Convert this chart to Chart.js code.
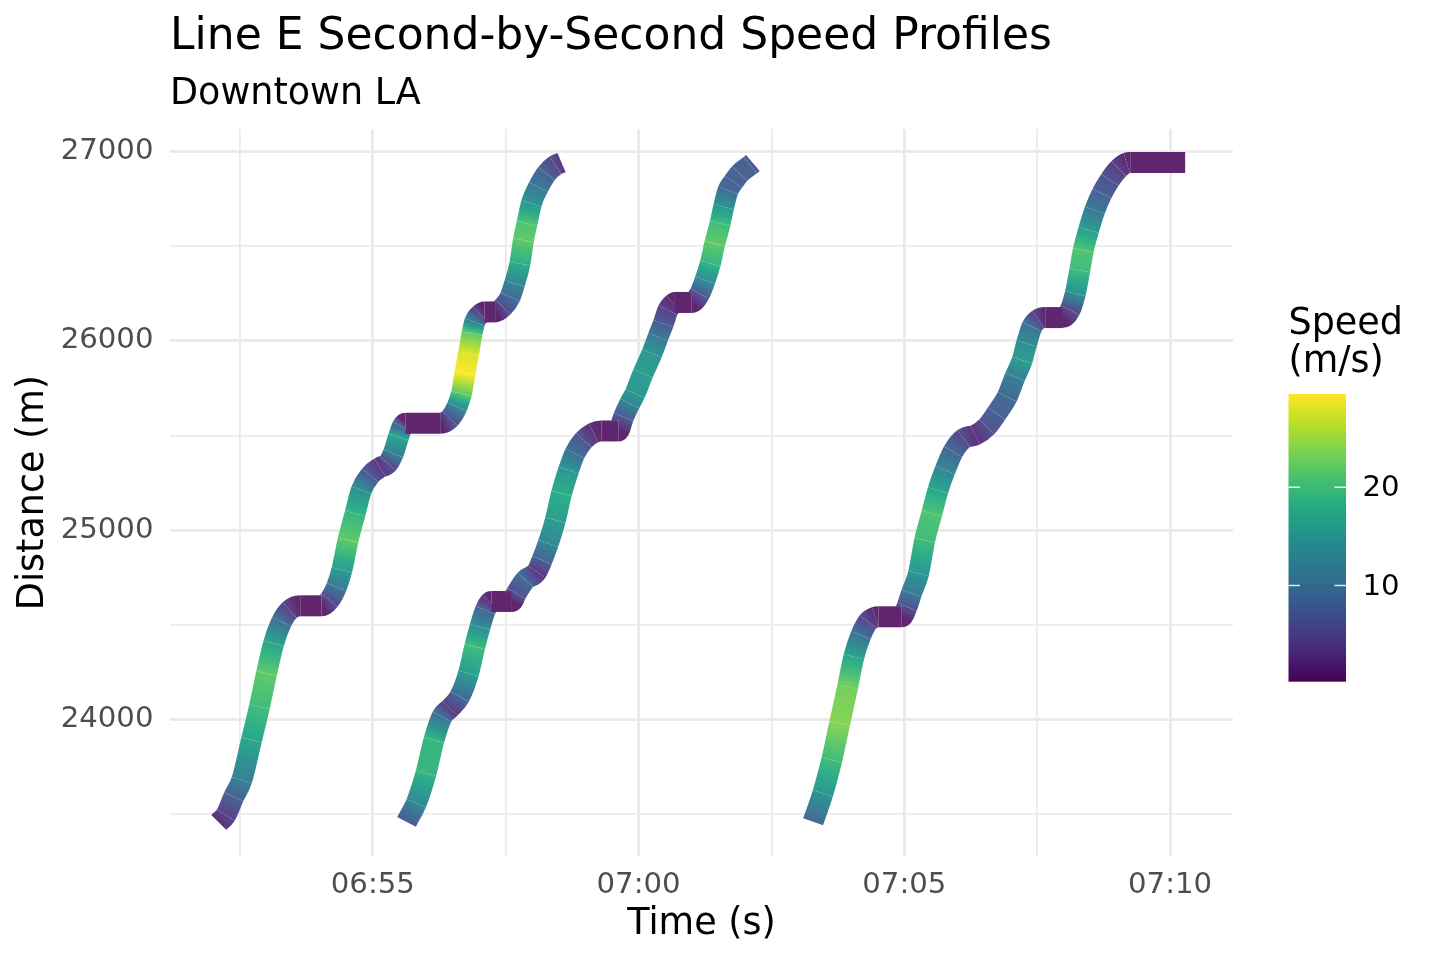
<!DOCTYPE html>
<html>
<head>
<meta charset="utf-8">
<script src="https://cdn.jsdelivr.net/npm/chart.js@4.4.0/dist/chart.umd.min.js"></script>
<style>
  html, body { margin: 0; padding: 0; background: #ffffff; }
  #wrap { width: 1440px; height: 960px; position: relative; }
</style>
</head>
<body>
<div id="wrap"><canvas id="c" width="1440" height="960"></canvas></div>
<script>
// ---------------- DATA ----------------
const trainNames = ["Train 1", "Train 2", "Train 3"];

const train1Times = ["06:52:06","06:52:14","06:52:23","06:52:32","06:52:43","06:52:52","06:53:00","06:53:08","06:53:17","06:53:26","06:53:38","06:54:02","06:54:11","06:54:19","06:54:25","06:54:32","06:54:40","06:54:47","06:54:57","06:55:08","06:55:17","06:55:23","06:55:29","06:55:33","06:55:37","06:56:16","06:56:27","06:56:35","06:56:40","06:56:44","06:56:48","06:56:52","06:56:55","06:57:01","06:57:06","06:57:18","06:57:27","06:57:35","06:57:40","06:57:46","06:57:50","06:57:54","06:57:59","06:58:07","06:58:16","06:58:26","06:58:33"];
const train1Distance = [23456,23494,23591,23679,23891,24067,24243,24402,24516,24577,24600,24600,24630,24700,24789,24947,25088,25211,25290,25331,25352,25405,25493,25546,25565,25565,25590,25651,25722,25828,25933,26039,26100,26140,26153,26153,26179,26232,26303,26409,26532,26620,26726,26813,26884,26928,26942];
const train1Speed = [2,4,8,12,17,20,22,17,10,4,0.2,0.2,5,11,16,22,19,14,7,3,5,12,17,8,0.2,0.2,6,13,22,29.5,28,22,12,4,0.2,0.2,5,9,13,18,22,21,15,11,8,5,3];

const train2Times = ["06:55:38","06:55:49","06:56:00","06:56:09","06:56:18","06:56:27","06:56:38","06:56:48","06:56:55","06:57:01","06:57:07","06:57:12","06:57:14","06:57:37","06:57:42","06:57:52","06:58:05","06:58:11","06:58:18","06:58:26","06:58:33","06:58:41","06:58:48","06:58:58","06:59:09","06:59:18","06:59:37","06:59:43","06:59:50","06:59:56","07:00:05","07:00:15","07:00:22","07:00:28","07:00:33","07:00:39","07:00:41","07:01:00","07:01:09","07:01:15","07:01:21","07:01:26","07:01:32","07:01:36","07:01:41","07:01:47","07:01:54","07:02:06","07:02:09"];
const train2Distance = [23458,23557,23716,23891,24014,24058,24120,24243,24384,24489,24577,24619,24623,24623,24666,24736,24780,24842,24930,25053,25194,25317,25405,25475,25514,25524,25524,25598,25669,25722,25828,25933,26021,26092,26162,26197,26203,26203,26250,26320,26409,26514,26620,26708,26796,26840,26884,26928,26940];
const train2Speed = [7,13,19,19,10,3,9,16,20,14,8,2,0.2,0.2,6,9,3,8,13,16,18,15,10,6,2,0.2,0.2,7,13,15,16,15,11,7,4,1,0.2,0.2,7,14,19,22,20,15,9,8,8,8,7];

const train3Times = ["07:03:17","07:03:28","07:03:38","07:03:47","07:03:56","07:04:03","07:04:11","07:04:19","07:04:27","07:04:31","07:04:57","07:05:03","07:05:08","07:05:16","07:05:23","07:05:31","07:05:38","07:05:46","07:05:55","07:06:07","07:06:20","07:06:33","07:06:44","07:06:56","07:07:05","07:07:13","07:07:18","07:07:24","07:07:31","07:07:39","07:07:58","07:08:07","07:08:13","07:08:18","07:08:22","07:08:28","07:08:35","07:08:43","07:08:52","07:09:02","07:09:11","07:09:15","07:10:17"];
const train3Distance = [23459,23609,23785,23979,24172,24331,24445,24516,24540,24542,24542,24595,24666,24771,24947,25088,25211,25317,25414,25484,25502,25546,25616,25704,25810,25898,25986,26074,26113,26123,26123,26162,26250,26373,26479,26585,26690,26778,26850,26910,26940,26942,26942];
const train3Speed = [9,15,20,24,23,17,10,5,1,0.2,0.2,6,11,15,20,21,17,13,9,5,2,6,8,9,12,16,14,10,4,0.2,0.2,5,14,20,21,16,11,8,6,4,1,0.2,0.2];

const xTickTimes = ["06:52:30","06:55:00","06:57:30","07:00:00","07:02:30","07:05:00","07:07:30","07:10:00"];
const xLabelledTimes = ["06:55:00","07:00:00","07:05:00","07:10:00"];
const yTickValues = [23500,24000,24500,25000,25500,26000,26500,27000];
const yLabelledValues = [24000,25000,26000,27000];
const speedLegendTicks = [10, 20];

const chartTitle = "Line E Second-by-Second Speed Profiles";
const chartSubtitle = "Downtown LA";
const xTitle = "Time (s)";
const yTitle = "Distance (m)";
const legendTitleLines = ["Speed", "(m/s)"];

// ---------------- helpers ----------------
function toSec(s) { const p = s.split(":").map(Number); return p[0]*3600 + p[1]*60 + (p[2]||0); }
function fmtHM(v) { const h = Math.floor(v/3600), m = Math.round((v - h*3600)/60); return String(h).padStart(2,"0") + ":" + String(m).padStart(2,"0"); }

const VIRIDIS = ["#440154","#482576","#414487","#35608D","#2A788E","#21908C","#22A884","#43BF71","#7AD151","#BBDF27","#FDE725"];
const VIR_RGB = VIRIDIS.map(h => [parseInt(h.slice(1,3),16), parseInt(h.slice(3,5),16), parseInt(h.slice(5,7),16)]);
function viridisRGB(f) {
  f = Math.max(0, Math.min(1, f));
  const pos = f * (VIR_RGB.length - 1);
  const i = Math.min(VIR_RGB.length - 2, Math.floor(pos));
  const t = pos - i;
  const a = VIR_RGB[i], b = VIR_RGB[i+1];
  return a.map((v,k) => v + (b[k]-v)*t);
}
function viridisAt(f) { return "rgb(" + viridisRGB(f).map(Math.round).join(",") + ")"; }

const timesList = [train1Times, train2Times, train3Times];
const distList = [train1Distance, train2Distance, train3Distance];
const speedList = [train1Speed, train2Speed, train3Speed];
const allSpeeds = speedList.flat();
const vMin = Math.min(...allSpeeds), vMax = Math.max(...allSpeeds);

// line colour: viridis, slightly lifted (the reference's dense per-second
// segments leave light anti-aliasing seams, more so where the train is slow)
function lineColor(v) {
  const rgb = viridisRGB((v - vMin) / (vMax - vMin));
  const w = 0.15 / (1 + v / 8);
  return "rgb(" + rgb.map(c => Math.round(c + (255 - c) * w)).join(",") + ")";
}

const FONT = "DejaVu Sans";

const datasets = trainNames.map((name, di) => ({
  label: name,
  data: timesList[di].map((t, i) => ({ x: toSec(t), y: distList[di][i] })),
  borderWidth: 21,
  borderColor: lineColor(speedList[di][0]),
  borderCapStyle: "butt",
  borderJoinStyle: "round",
  cubicInterpolationMode: "monotone",
  pointRadius: 0,
  pointHoverRadius: 0,
  fill: false,
  segment: {
    borderColor: (ctx) => {
      const sp = speedList[ctx.datasetIndex];
      const a = sp[ctx.p0DataIndex], b = sp[ctx.p1DataIndex];
      const g = ctx.chart.ctx.createLinearGradient(ctx.p0.x, ctx.p0.y, ctx.p1.x, ctx.p1.y);
      for (let k = 0; k <= 4; k++) g.addColorStop(k/4, lineColor(a + (b - a) * k / 4));
      return g;
    }
  }
}));

// ---------------- colour bar legend ----------------
const colorbarPlugin = {
  id: "colorbar",
  afterDraw(chart) {
    const c = chart.ctx;
    const x0 = 1288.5, x1 = 1346, y0 = 394, y1 = 681.7;
    c.save();
    const g = c.createLinearGradient(0, y1, 0, y0);
    for (let i = 0; i <= 40; i++) g.addColorStop(i/40, viridisAt(i/40));
    c.fillStyle = g;
    c.fillRect(x0, y0, x1 - x0, y1 - y0);
    c.fillStyle = "#000000";
    c.textAlign = "left";
    c.textBaseline = "alphabetic";
    c.font = "36.5px '" + FONT + "'";
    c.fillText(legendTitleLines[0], 1288.5, 333.5);
    c.fillText(legendTitleLines[1], 1288.5, 372);
    c.font = "29.2px '" + FONT + "'";
    c.textBaseline = "middle";
    speedLegendTicks.forEach(v => {
      const y = y1 - (v - vMin) / (vMax - vMin) * (y1 - y0);
      c.strokeStyle = "rgba(255,255,255,0.85)";
      c.lineWidth = 1.6;
      c.beginPath();
      c.moveTo(x0, y); c.lineTo(x0 + 11.5, y);
      c.moveTo(x1 - 11.5, y); c.lineTo(x1, y);
      c.stroke();
      c.fillStyle = "#000000";
      c.fillText(String(v), 1362.5, y + 1.5);
    });
    c.restore();
  }
};

const xTickSecs = xTickTimes.map(toSec);
const xLabelSecs = xLabelledTimes.map(toSec);

new Chart(document.getElementById("c"), {
  type: "line",
  data: { datasets },
  options: {
    responsive: false,
    animation: false,
    events: [],
    layout: { padding: { left: 0, right: 207, top: 0, bottom: 0 } },
    plugins: {
      legend: { display: false },
      tooltip: { enabled: false },
      title: {
        display: true, text: chartTitle, align: "start", fullSize: false, color: "#000000",
        font: { family: FONT, size: 44, weight: "normal", lineHeight: 1.2 },
        padding: { top: 11.5, bottom: 0 }
      },
      subtitle: {
        display: true, text: chartSubtitle, align: "start", fullSize: false, color: "#000000",
        font: { family: FONT, size: 36.5, weight: "normal", lineHeight: 1.2 },
        padding: { top: 8.5, bottom: 12.5 }
      }
    },
    scales: {
      x: {
        type: "linear",
        min: 24671, max: 25871,
        afterFit: (s) => { s.height = 104; },
        afterBuildTicks: (s) => { s.ticks = xTickSecs.map(v => ({ value: v })); },
        border: { display: false },
        grid: {
          color: "#EBEBEB",
          lineWidth: (ctx) => (ctx.tick && xLabelSecs.includes(ctx.tick.value)) ? 3 : 1.8,
          drawTicks: false
        },
        ticks: {
          autoSkip: false, maxRotation: 0, minRotation: 0, padding: 11.5,
          color: "#4D4D4D", font: { family: FONT, size: 29.2 },
          callback: (v) => xLabelSecs.includes(v) ? fmtHM(v) : ""
        },
        title: {
          display: true, text: xTitle, color: "#000000",
          font: { family: FONT, size: 36.5, lineHeight: 1.2 },
          padding: { top: 0, bottom: 13.5 }
        }
      },
      y: {
        type: "linear",
        min: 23278, max: 27119,
        afterFit: (s) => { s.width = 170; },
        afterBuildTicks: (s) => { s.ticks = yTickValues.map(v => ({ value: v })); },
        border: { display: false },
        grid: {
          color: "#EBEBEB",
          lineWidth: (ctx) => (ctx.tick && yLabelledValues.includes(ctx.tick.value)) ? 3 : 1.8,
          drawTicks: false
        },
        ticks: {
          autoSkip: false, padding: 16.5,
          color: "#4D4D4D", font: { family: FONT, size: 29.2 },
          callback: (v) => yLabelledValues.includes(v) ? String(v) : ""
        },
        title: {
          display: true, text: yTitle, color: "#000000",
          font: { family: FONT, size: 36.5, lineHeight: 1.2 },
          padding: { top: 12, bottom: 0 }
        }
      }
    }
  },
  plugins: [colorbarPlugin]
});
</script>
</body>
</html>
